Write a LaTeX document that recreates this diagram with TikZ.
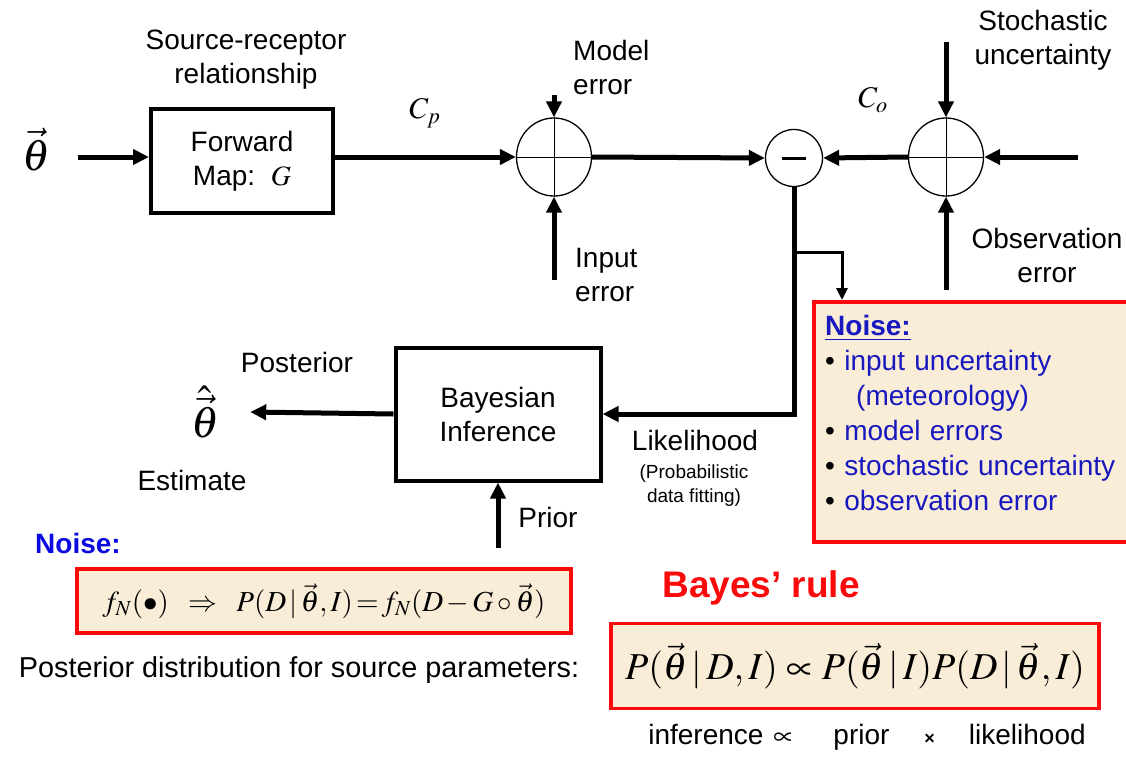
\documentclass[tikz,border=0pt]{standalone}
\usepackage{mathptmx}
\usepackage[no-math]{fontspec}
\setmainfont{Liberation Sans}
\usepackage{xcolor}
\usetikzlibrary{arrows.meta,positioning,shapes.geometric}
\definecolor{boxred}{RGB}{250,10,10}
\definecolor{notefill}{RGB}{249,237,216}
\definecolor{noiseblue}{RGB}{24,24,190}
\definecolor{brightblue}{RGB}{10,10,225}

\begin{document}
\begin{tikzpicture}[x=1pt, y=-1pt, >={Triangle[length=16pt,width=15pt]},
  lbl/.style={font=\fontsize{28}{34}\selectfont, align=center, inner sep=0pt},
  small/.style={font=\fontsize{19}{24}\selectfont, align=center, inner sep=0pt},
  mathlbl/.style={font=\fontsize{44}{50}\selectfont, inner sep=0pt},
  block/.style={draw, line width=4pt, lbl},
  sumnode/.style={draw, ellipse, line width=1.3pt, inner sep=0pt, minimum width=75pt, minimum height=78pt},
  notebox/.style={draw=boxred, line width=3.5pt, fill=notefill, inner sep=0pt},
  flow/.style={line width=5pt},
  feed/.style={line width=3pt, >={Triangle[length=12pt,width=11pt]}},
]
\fill[white] (0,0) rectangle (1126,756);
\useasboundingbox (0,0) rectangle (1126,756);

% upper loop: forward model and errors
\node[mathlbl] (th) at (36,150) {$\vec{\theta}$};
\node[block, minimum width=182pt, minimum height=104pt] (fwd) at (242,161) {Forward\\Map:\ \ $G$};
\node[lbl] (srclbl) at (246,60) {Source-receptor\\relationship};
\node[sumnode] (sum1) at (554,157) {};
\node[sumnode, minimum width=57pt, minimum height=57pt] (minus) at (794,158) {};
\node[sumnode] (sum2) at (946,157) {};
\draw[line width=1pt] (sum1.north) -- (sum1.south) (sum1.west) -- (sum1.east);
\draw[line width=1pt] (sum2.north) -- (sum2.south) (sum2.west) -- (sum2.east);
\draw[line width=3pt] ([xshift=-12pt]minus.center) -- ([xshift=12pt]minus.center);

\node[font=\fontsize{30}{34}\selectfont, inner sep=0pt] (cp) at (425,113) {$C_p$};
\node[font=\fontsize{30}{34}\selectfont, inner sep=0pt] (co) at (873,100) {$C_o$};
\node[lbl, align=left, anchor=west] (modlbl) at (573,67) {Model\\error};
\node[lbl, align=left, anchor=west] (inplbl) at (575,275) {Input\\error};
\node[lbl] (stolbl) at (1043,40) {Stochastic\\uncertainty};
\node[lbl] (obslbl) at (1047,255) {Observation\\error};

\coordinate (modin) at (554,95);
\coordinate (inpin) at (554,280);
\coordinate (stoin) at (946,42);
\coordinate (errin) at (946,290);
\coordinate (obsin) at (1078,157);
\coordinate (br) at (794,252);

\draw[flow,->] (th.east |- sum1) ++(28pt,0) -- (fwd.west |- sum1);
\draw[flow,->] (fwd.east |- sum1) -- (sum1.west);
\draw[flow,->] (modin) -- (sum1.north);
\draw[flow,->] (inpin) -- (sum1.south);
\draw[flow,->] (sum1.east) -- (minus.west);
\draw[flow,->] (sum2.west) -- (minus.east);
\draw[flow,->] (obsin) -- (sum2.east);
\draw[flow,->] (stoin) -- (sum2.north);
\draw[flow,->] (errin) -- (sum2.south);

% noise list
\node[notebox, anchor=north west, minimum width=324pt, minimum height=240pt] (noiseR) at (812,300) {};
\node[anchor=north west, text width=300pt, inner sep=0pt, align=left, font=\fontsize{28}{35}\selectfont]
  (noiseTxt) at (825,315)
  {\textcolor{noiseblue}{\underline{\textbf{Noise:}}}\\
   •\ \textcolor{noiseblue}{input uncertainty}\\
   \hspace*{31pt}\textcolor{noiseblue}{(meteorology)}\\
   •\ \textcolor{noiseblue}{model errors}\\
   •\ \textcolor{noiseblue}{stochastic uncertainty}\\
   •\ \textcolor{noiseblue}{observation error}};

% lower part: inference
\node[block, minimum width=205pt, minimum height=133pt] (bayes) at (498,414) {Bayesian\\Inference};
\node[mathlbl] (est) at (205,412) {$\hat{\vec{\theta}}$};
\node[lbl] (postlbl) at (297,362) {Posterior};
\node[lbl] (estlbl) at (192,480) {Estimate};
\node[lbl] (priorlbl) at (548,517) {Prior};
\node[lbl] (likelbl) at (695,440) {Likelihood};
\node[small] (fitlbl) at (694,486) {(Probabilistic\\data fitting)};
\coordinate (priorin) at (498,548);

\draw[flow,->] (minus.south) |- (bayes.east);
\draw[feed,->] (br) -| ([xshift=30pt]noiseR.north west);
\draw[flow,->] (bayes.west) -- ([xshift=31pt]est.east);
\draw[flow,->] (priorin) -- (bayes.south);

% formulas
\node[lbl, font=\fontsize{28}{34}\selectfont\bfseries, text=brightblue] (noiseL) at (78,543) {Noise:};
\node[notebox, minimum width=494pt, minimum height=64pt, font=\fontsize{29}{34}\selectfont] (fbox) at (324,601)
  {$f_N(\bullet)\;\;\Rightarrow\;\;P(D\,|\,\vec{\theta},I)\,{=}\,f_N(D\,{-}\,G\circ\vec{\theta})$};
\node[lbl, font=\fontsize{28.8}{34}\selectfont] (postdist) at (299,670) {Posterior distribution for source parameters:};
\node[lbl, font=\fontsize{37}{42}\selectfont\bfseries, text=boxred] (rule) at (761,588) {Bayes' rule};
\node[notebox, minimum width=488pt, minimum height=85pt, font=\fontsize{38}{44}\selectfont] (bbox) at (855,666)
  {$P(\vec{\theta}\,|\,D,I)\propto P(\vec{\theta}\,|\,I)P(D\,|\,\vec{\theta},I)$};
\node[lbl] (words) at (867,737)
  {inference\hspace{10pt}$\propto$\hspace{40pt}prior\hspace{35pt}{\fontsize{18}{20}\selectfont\bfseries ×}\hspace{34pt}likelihood};
\end{tikzpicture}
\end{document}
